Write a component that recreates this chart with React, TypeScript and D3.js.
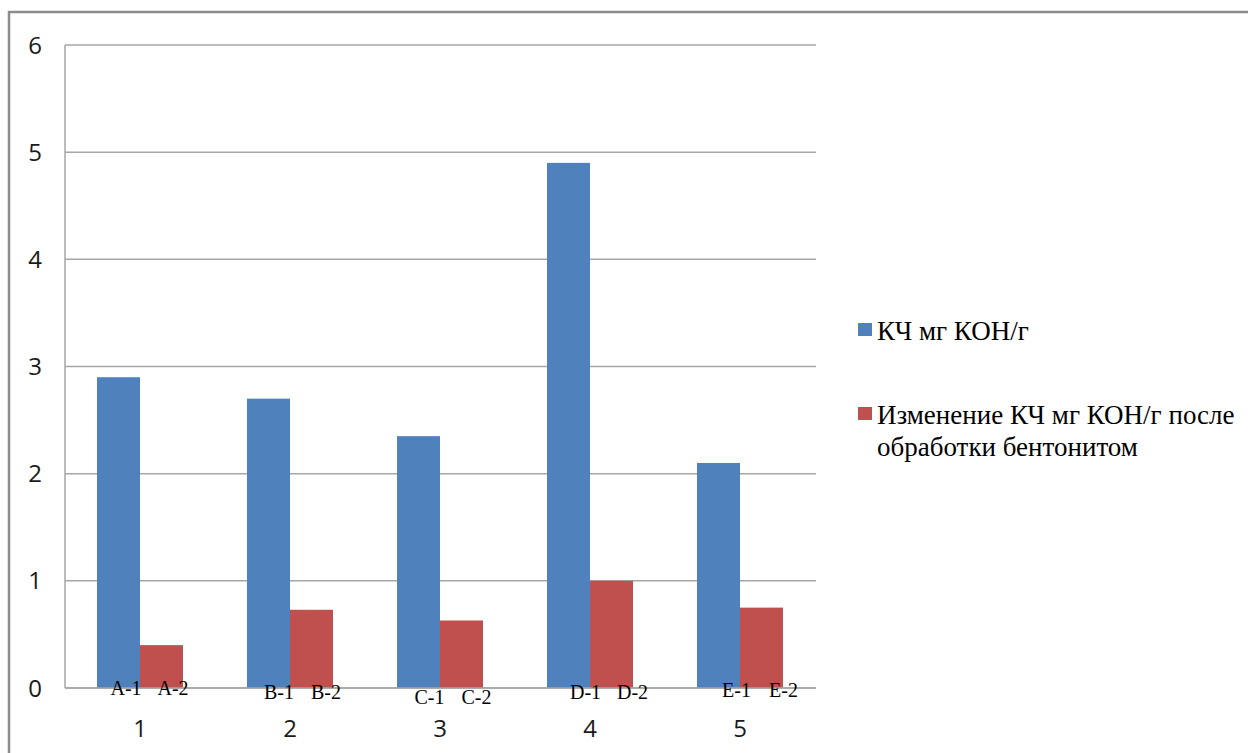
import React from "react";
import * as d3 from "d3";

// Samples and their series values
const categories = ["1", "2", "3", "4", "5"];
const seriesNames = ["КЧ мг КОН/г", "Изменение КЧ мг КОН/г после обработки бентонитом"];
const acidNumber = [2.9, 2.7, 2.35, 4.9, 2.1];
const acidNumberAfter = [0.4, 0.73, 0.63, 1.0, 0.75];
const barLabels = [
  ["A-1", "A-2"],
  ["B-1", "B-2"],
  ["C-1", "C-2"],
  ["D-1", "D-2"],
  ["E-1", "E-2"],
];
const yTicks = [0, 1, 2, 3, 4, 5, 6];

// Hand-placed text-box offsets for the sample codes
const labelShiftX = [7.5, 10.5, 11, 17, 18];
const labelSpread = 4;
const labelShiftY = [0, 4, 9, 4, 2];

const W = 1248;
const H = 753;
const plot = { left: 65, right: 815, top: 45, bottom: 688 };
const colors = ["#4F81BD", "#C0504D"];
const sansFont = "'Open Sans', 'Noto Sans', sans-serif";
const serifFont = "'Liberation Serif', 'DejaVu Serif', serif";

export default function App() {
  const y = d3.scaleLinear().domain([0, 6]).range([plot.bottom, plot.top]);
  const x0 = d3
    .scaleBand<string>()
    .domain(categories)
    .range([plot.left, plot.right])
    .paddingInner(0.4267)
    .paddingOuter(0.2133);
  const x1 = d3
    .scaleBand<number>()
    .domain([0, 1])
    .range([0, x0.bandwidth()])
    .padding(0);
  const series = [acidNumber, acidNumberAfter];

  return (
    <svg
      width={W}
      height={H}
      style={{ position: "absolute", left: 0, top: 0, background: "#fff" }}
    >
      {/* outer chart frame */}
      <rect x={9} y={12} width={W + 20} height={H + 20} fill="none" stroke="#8c8c8c" strokeWidth={2.5} />

      {/* horizontal gridlines */}
      {yTicks.map((t) => (
        <line
          key={"g" + t}
          x1={plot.left}
          x2={plot.right + 1}
          y1={y(t)}
          y2={y(t)}
          stroke="#a6a6a6"
          strokeWidth={1.5}
        />
      ))}
      {/* vertical axis */}
      <line x1={plot.left} x2={plot.left} y1={plot.top} y2={plot.bottom} stroke="#a6a6a6" strokeWidth={1.5} />

      {/* y tick labels */}
      {yTicks.map((t) => (
        <text
          key={"t" + t}
          x={35}
          y={y(t)}
          dy="0.36em"
          textAnchor="middle"
          fontFamily={sansFont}
          fontSize={24}
          fill="#1a1a1a"
        >
          {t}
        </text>
      ))}

      {/* bars */}
      {categories.map((c, i) => (
        <g key={"b" + c} transform={`translate(${x0(c)},0)`}>
          {series.map((s, j) => (
            <rect
              key={j}
              x={x1(j)}
              y={y(s[i])}
              width={x1.bandwidth()}
              height={y(0) - y(s[i])}
              fill={colors[j]}
            />
          ))}
        </g>
      ))}

      {/* redraw the baseline over bars */}
      <line x1={plot.left} x2={plot.right + 1} y1={y(0)} y2={y(0)} stroke="#a6a6a6" strokeWidth={1.5} />

      {/* sample codes */}
      {categories.map((c, i) =>
        barLabels[i].map((lab, j) => (
          <text
            key={c + lab}
            x={
              (x0(c) as number) +
              (x1(j) as number) +
              x1.bandwidth() / 2 +
              labelShiftX[i] +
              j * labelSpread
            }
            y={688 + labelShiftY[i]}
            dy="0.34em"
            textAnchor="middle"
            fontFamily={serifFont}
            fontSize={20}
            fill="#000"
          >
            {lab}
          </text>
        ))
      )}

      {/* category labels */}
      {categories.map((c) => (
        <text
          key={"c" + c}
          x={(x0(c) as number) + x0.bandwidth() / 2}
          y={728}
          dy="0.36em"
          textAnchor="middle"
          fontFamily={sansFont}
          fontSize={24}
          fill="#1a1a1a"
        >
          {c}
        </text>
      ))}

      {/* legend */}
      <rect x={858} y={323} width={14} height={13} fill={colors[0]} />
      <text x={877} y={340} fontFamily={serifFont} fontSize={27} fill="#000">
        {seriesNames[0]}
      </text>
      <rect x={858} y={407} width={14} height={13} fill={colors[1]} />
      <text fontFamily={serifFont} fontSize={27} fill="#000">
        <tspan x={877} y={424}>Изменение КЧ мг КОН/г после</tspan>
        <tspan x={877} y={456}>обработки бентонитом</tspan>
      </text>
    </svg>
  );
}
